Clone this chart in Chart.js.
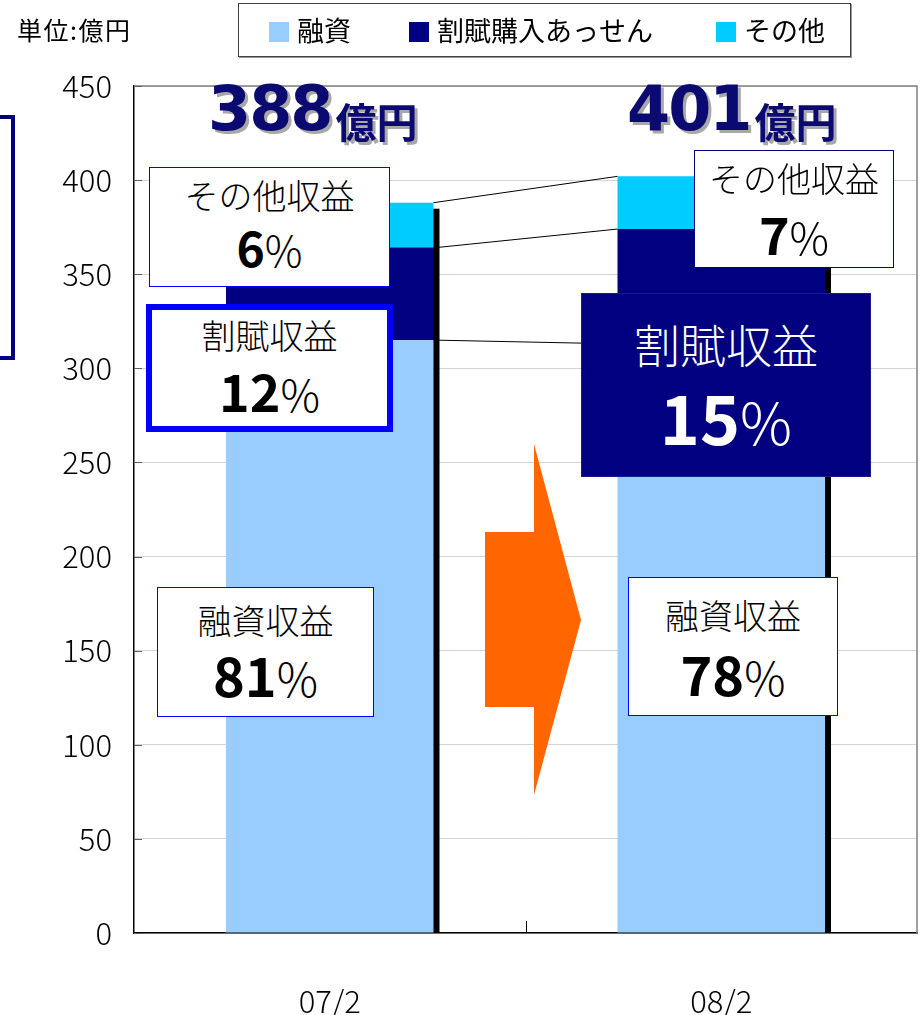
<!DOCTYPE html>
<html><head><meta charset="utf-8">
<script src="https://cdn.jsdelivr.net/npm/chart.js@4/dist/chart.umd.min.js"></script>
<style>
body{margin:0;background:#fff;}
#wrap{position:relative;width:923px;height:1015px;overflow:hidden;font-family:'Noto Sans CJK JP','Noto Sans',sans-serif;color:#000;}
canvas{position:absolute;left:0;top:0;}
.box{position:absolute;background:#fff;border:1.5px solid #0000ff;box-sizing:border-box;}
.ln{position:absolute;left:0;right:0;text-align:center;line-height:1;white-space:nowrap;}
.l1{font-weight:300;}
.num{font-weight:bold;}
.pc{font-weight:300;}
.total{position:absolute;color:#0a0a70;white-space:nowrap;line-height:1;text-shadow:3px 3px 0 #a8a8a8;}
.total .big{font-family:'DejaVu Sans',sans-serif;font-weight:bold;font-size:62px;letter-spacing:-2px;}
.total .unit{font-size:41px;font-weight:bold;margin-left:4px;position:relative;top:8px;}
#legend{position:absolute;left:238px;top:3px;width:613px;height:54px;border:1.5px solid #404040;box-sizing:border-box;box-shadow:1px 1px 0 #999;}
.lg{position:absolute;top:10px;font-size:27px;line-height:1.2;white-space:nowrap;}
.sw{display:inline-block;width:20px;height:20px;vertical-align:-1px;margin-right:8px;}
#unit{position:absolute;left:17px;top:14px;font-size:25px;letter-spacing:1.5px;line-height:1.2;}
#bracket{position:absolute;left:-12px;top:115px;width:27px;height:245px;border:4px solid #000080;box-sizing:border-box;}
</style></head>
<body><div id="wrap">
<canvas id="c" width="923" height="1015"></canvas>
<div id="unit">単位:億円</div>
<div id="legend"></div>
<div id="bracket"></div>
<div id="ann"></div>
</div>
<script>
// ---- data ----
const categories = ['07/2', '08/2'];
const seriesNames = ['融資', '割賦購入あっせん', 'その他'];
const loanRevenue = [315, 313];          // 融資
const installmentRevenue = [49, 61];     // 割賦購入あっせん
const otherRevenue = [24, 28];           // その他
const totals = [388, 401];               // 億円
const loanShare = [81, 78];              // %
const installmentShare = [12, 15];       // %
const otherShare = [6, 7];               // %
const yMin = 0, yMax = 450, yStep = 50;
const colors = ['#99CCFF', '#000080', '#00CCFF'];
const FONT = "'Noto Sans CJK JP','Noto Sans',sans-serif";

// ---- legend ----
const legendX = [30, 170, 477];
document.getElementById('legend').innerHTML = seriesNames.map((n, i) =>
  `<div class="lg" style="left:${legendX[i]}px"><span class="sw" style="background:${colors[i]}"></span>${n}</div>`).join('');

// ---- annotations ----
const ann = document.getElementById('ann');
function box(style, l1, l1top, l1size, num, numTop, numSize, pcSize, color) {
  ann.insertAdjacentHTML('beforeend',
    `<div class="box" style="${style}">
      <div class="ln l1" style="top:${l1top}px;font-size:${l1size}px;color:${color}">${l1}</div>
      <div class="ln" style="top:${numTop}px;color:${color}"><span class="num" style="font-size:${numSize}px">${num}</span><span class="pc" style="font-size:${pcSize}px">%</span></div>
    </div>`);
}
box('left:149px;top:167px;width:241px;height:120px;', 'その他収益', 10, 34, otherShare[0], 54, 48, 42, '#000');
box('left:146px;top:304px;width:247px;height:128px;border:6px solid #0000ff;', '割賦収益', 8, 34, installmentShare[0], 54, 52, 44, '#000');
box('left:157px;top:587px;width:217px;height:130px;', '融資収益', 15, 34, loanShare[0], 59, 54, 46, '#000');
box('left:694px;top:150px;width:200px;height:118px;border-color:#000080;', 'その他収益', 10, 34, otherShare[1], 56, 52, 44, '#000');
box('left:581px;top:293px;width:290px;height:184px;background:#000080;border-color:#1a1a90;', '割賦収益', 26, 46, installmentShare[1], 88, 68, 58, '#fff');
box('left:628px;top:577px;width:210px;height:139px;', '融資収益', 20, 34, loanShare[1], 68, 54, 46, '#000');

ann.insertAdjacentHTML('beforeend',
  `<div class="total" style="left:208px;top:78px"><span class="big">${totals[0]}</span><span class="unit">億円</span></div>
   <div class="total" style="left:627px;top:78px"><span class="big">${totals[1]}</span><span class="unit">億円</span></div>`);

// ---- decoration plugin ----
const deco = {
  id: 'deco',
  beforeDatasetsDraw(chart) {
    const ctx = chart.ctx, ca = chart.chartArea;
    const topMeta = chart.getDatasetMeta(2);
    const y0 = chart.scales.y.getPixelForValue(0);
    ctx.save();
    ctx.beginPath(); ctx.rect(ca.left, ca.top, ca.right - ca.left, ca.bottom - ca.top); ctx.clip();
    ctx.fillStyle = '#000';
    topMeta.data.forEach(el => {
      ctx.fillRect(el.x - el.width / 2 + 6, el.y + 6, el.width, y0 - el.y - 6);
    });
    ctx.restore();
  },
  afterDatasetsDraw(chart) {
    const ctx = chart.ctx;
    ctx.save();
    ctx.strokeStyle = '#000'; ctx.lineWidth = 1;
    [0, 1, 2].forEach(i => {
      const m = chart.getDatasetMeta(i);
      const a = m.data[0], b = m.data[1];
      ctx.beginPath();
      ctx.moveTo(a.x + a.width / 2, a.y);
      ctx.lineTo(b.x - b.width / 2, b.y);
      ctx.stroke();
    });
    ctx.restore();
  },
  afterDraw(chart) {
    const ctx = chart.ctx, ca = chart.chartArea, ys = chart.scales.y;
    ctx.save();
    ctx.strokeStyle = '#808080'; ctx.lineWidth = 1.5;
    ctx.beginPath();
    ctx.moveTo(ca.left, ca.top); ctx.lineTo(ca.right, ca.top); ctx.lineTo(ca.right, ca.bottom);
    ctx.stroke();
    ctx.strokeStyle = '#606060'; ctx.lineWidth = 1;
    for (let v = yMin; v <= yMax; v += yStep) {
      const y = Math.round(ys.getPixelForValue(v)) + 0.5;
      ctx.beginPath(); ctx.moveTo(ca.left, y); ctx.lineTo(ca.left + 8, y); ctx.stroke();
    }
    const mid = Math.round((ca.left + ca.right) / 2) + 0.5;
    ctx.strokeStyle = '#000';
    ctx.beginPath(); ctx.moveTo(mid, ca.bottom - 12); ctx.lineTo(mid, ca.bottom); ctx.stroke();
    ctx.fillStyle = '#FF6600';
    ctx.beginPath();
    ctx.moveTo(485, 532); ctx.lineTo(534, 532); ctx.lineTo(534, 444);
    ctx.lineTo(581, 620); ctx.lineTo(534, 795); ctx.lineTo(534, 707); ctx.lineTo(485, 707);
    ctx.closePath(); ctx.fill();
    ctx.restore();
  }
};

new Chart(document.getElementById('c'), {
  type: 'bar',
  data: {
    labels: categories,
    datasets: [
      { label: seriesNames[0], data: loanRevenue, backgroundColor: colors[0] },
      { label: seriesNames[1], data: installmentRevenue, backgroundColor: colors[1] },
      { label: seriesNames[2], data: otherRevenue, backgroundColor: colors[2] }
    ]
  },
  options: {
    responsive: false,
    animation: false,
    devicePixelRatio: 1,
    layout: { padding: { top: 86, right: 6, left: 0, bottom: 0 } },
    datasets: { bar: { categoryPercentage: 1, barPercentage: 0.53 } },
    plugins: { legend: { display: false }, tooltip: { enabled: false } },
    scales: {
      x: {
        stacked: true,
        grid: { display: false, drawTicks: false },
        border: { color: '#000', width: 1.5 },
        ticks: { padding: 50, color: '#000', font: { size: 31, family: FONT, weight: 300 } },
        afterFit(s) { s.height = 82; }
      },
      y: {
        stacked: true, min: yMin, max: yMax,
        ticks: { stepSize: yStep, padding: 22, color: '#000', font: { size: 31, family: FONT, weight: 300 } },
        grid: { color: '#d4d4d4', drawTicks: false },
        border: { color: '#000', width: 1.5 },
        afterFit(s) { s.width = 134; }
      }
    }
  },
  plugins: [deco]
});
</script>
</body></html>
